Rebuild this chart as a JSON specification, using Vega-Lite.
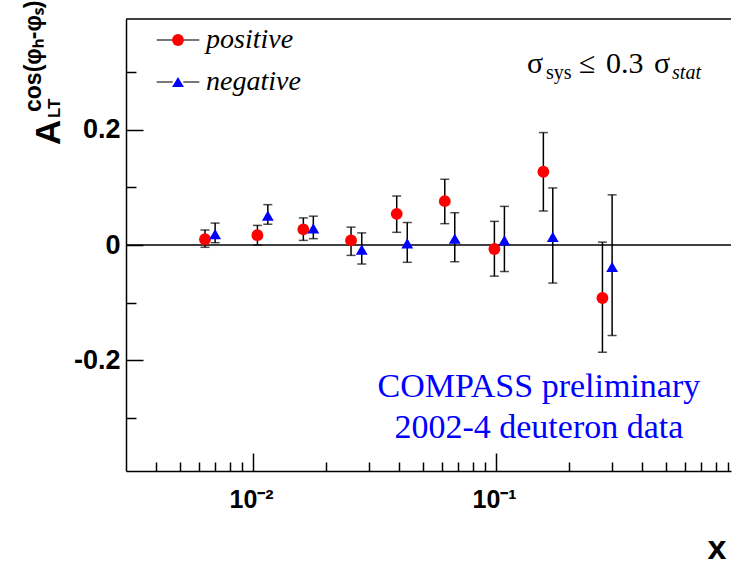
{
  "$schema": "https://vega.github.io/schema/vega-lite/v6.json",
  "width": 605,
  "height": 452,
  "autosize": "none",
  "padding": {"left": 126, "top": 19, "right": 1, "bottom": 91},
  "background": "white",
  "config": {"view": {"stroke": null}},
  "resolve": {"axis": {"x": "independent", "y": "independent"}},
  "data": {"values": [
    {"series": "positive", "x": 0.00634, "y": 0.010, "lo": -0.004, "hi": 0.026},
    {"series": "positive", "x": 0.01042, "y": 0.017, "lo": 0.000, "hi": 0.034},
    {"series": "positive", "x": 0.0161, "y": 0.027, "lo": 0.008, "hi": 0.047},
    {"series": "positive", "x": 0.0253, "y": 0.008, "lo": -0.018, "hi": 0.031},
    {"series": "positive", "x": 0.0390, "y": 0.054, "lo": 0.022, "hi": 0.085},
    {"series": "positive", "x": 0.0615, "y": 0.076, "lo": 0.037, "hi": 0.114},
    {"series": "positive", "x": 0.0984, "y": -0.007, "lo": -0.054, "hi": 0.041},
    {"series": "positive", "x": 0.1565, "y": 0.127, "lo": 0.059, "hi": 0.195},
    {"series": "positive", "x": 0.2739, "y": -0.092, "lo": -0.186, "hi": 0.005},
    {"series": "negative", "x": 0.00698, "y": 0.019, "lo": 0.004, "hi": 0.038},
    {"series": "negative", "x": 0.0115, "y": 0.051, "lo": 0.036, "hi": 0.070},
    {"series": "negative", "x": 0.0177, "y": 0.029, "lo": 0.011, "hi": 0.050},
    {"series": "negative", "x": 0.0280, "y": -0.008, "lo": -0.033, "hi": 0.021},
    {"series": "negative", "x": 0.0431, "y": 0.003, "lo": -0.030, "hi": 0.039},
    {"series": "negative", "x": 0.0676, "y": 0.011, "lo": -0.029, "hi": 0.056},
    {"series": "negative", "x": 0.1082, "y": 0.008, "lo": -0.046, "hi": 0.067},
    {"series": "negative", "x": 0.1711, "y": 0.014, "lo": -0.066, "hi": 0.099},
    {"series": "negative", "x": 0.3002, "y": -0.038, "lo": -0.157, "hi": 0.087}
  ]},
  "layer": [
    {
      "data": {"values": [{}]},
      "mark": {"type": "rule", "color": "black", "strokeWidth": 1.5},
      "encoding": {"y": {"datum": 0, "axis": null}}
    },
    {
      "data": {"values": [{}]},
      "mark": {"type": "rule", "color": "black", "strokeWidth": 1.5},
      "encoding": {"y": {"datum": 0.392, "axis": null}}
    },
    {
      "mark": {"type": "errorbar", "ticks": true, "size": 9, "thickness": 1.5},
      "encoding": {
        "x": {
          "field": "x", "type": "quantitative",
          "scale": {"type": "log", "domain": [0.003, 0.926], "nice": false},
          "axis": {
            "orient": "bottom", "title": null, "labels": false, "domain": false, "grid": false,
            "values": [0.004, 0.005, 0.006, 0.007, 0.008, 0.009, 0.02, 0.03, 0.04, 0.05, 0.06, 0.07, 0.08, 0.09, 0.2, 0.3, 0.4, 0.5, 0.6, 0.7, 0.8, 0.9],
            "ticks": true, "tickSize": -9, "tickWidth": 1.5, "tickColor": "black"
          }
        },
        "y": {
          "field": "lo", "type": "quantitative",
          "scale": {"domain": [-0.392, 0.392], "nice": false, "zero": false},
          "axis": {
            "orient": "left", "title": null, "labels": false, "domain": false, "grid": false,
            "values": [-0.3, -0.1, 0.1, 0.3],
            "ticks": true, "tickSize": -10, "tickWidth": 1.5, "tickColor": "black"
          }
        },
        "y2": {"field": "hi"},
        "color": {
          "field": "series", "type": "nominal",
          "scale": {"domain": ["positive", "negative", "none"], "range": ["black", "black", "black"]},
          "legend": {
            "orient": "none", "legendX": 38, "legendY": 7, "title": null, "padding": 0,
            "values": ["positive", "negative"],
            "symbolType": "M-3.6,0H-0.9M0.9,0H3.6", "symbolSize": 140,
            "symbolStrokeColor": "black", "symbolStrokeWidth": 1.5, "symbolFillColor": "transparent",
            "labelFont": "Liberation Serif", "labelFontStyle": "italic", "labelFontSize": 28,
            "labelColor": "black", "labelOpacity": 0, "labelOffset": 14, "rowPadding": 14
          }
        }
      }
    },
    {
      "mark": {"type": "point", "filled": true, "opacity": 1, "size": 140},
      "encoding": {
        "x": {
          "field": "x", "type": "quantitative",
          "axis": {
            "orient": "bottom", "title": "x", "grid": false,
            "values": [0.01, 0.1],
            "labelExpr": "datum.value == 0.01 ? '10⁻²' : '10⁻¹'",
            "labelOverlap": false, "labelFlush": false, "labelBound": false,
            "ticks": true, "tickSize": -18, "tickWidth": 1.5, "tickColor": "black",
            "domain": true, "domainColor": "black", "domainWidth": 1.5,
            "labelPadding": 34, "labelOffset": -2,
            "labelFont": "Liberation Sans", "labelFontWeight": "bold", "labelFontSize": 25, "labelColor": "black",
            "titleFont": "Liberation Sans", "titleFontWeight": "bold", "titleFontSize": 34, "titleColor": "black",
            "titleX": 600, "titleY": 87, "titleAlign": "right", "titleBaseline": "alphabetic", "titleAnchor": "end"
          }
        },
        "y": {
          "field": "y", "type": "quantitative",
          "axis": {
            "orient": "left", "title": null, "grid": false,
            "values": [-0.2, 0, 0.2],
            "labelExpr": "datum.value == 0.2 ? '0.2' : (datum.value == 0 ? '0' : '-0.2')",
            "labelOverlap": false, "labelFlush": false, "labelBound": false,
            "ticks": true, "tickSize": -17, "tickWidth": 1.5, "tickColor": "black",
            "domain": true, "domainColor": "black", "domainWidth": 1.5,
            "labelPadding": 23,
            "labelFont": "Liberation Sans", "labelFontWeight": "bold", "labelFontSize": 27, "labelColor": "black"
          }
        },
        "fill": {
          "field": "series", "type": "nominal",
          "scale": {"domain": ["positive", "negative"], "range": ["#ff0000", "#0000ff"]},
          "legend": {
            "orient": "none", "legendX": 38, "legendY": 7, "title": null, "padding": 0,
            "symbolSize": 140, "symbolStrokeWidth": 0,
            "labelFont": "Liberation Serif", "labelFontStyle": "italic", "labelFontSize": 28,
            "labelColor": "black", "labelOffset": 14, "rowPadding": 14
          }
        },
        "shape": {
          "field": "series", "type": "nominal",
          "scale": {"domain": ["positive", "negative"], "range": ["circle", "triangle-up"]},
          "legend": {
            "orient": "none", "legendX": 38, "legendY": 7, "title": null, "padding": 0,
            "symbolSize": 140, "symbolStrokeWidth": 0,
            "labelFont": "Liberation Serif", "labelFontStyle": "italic", "labelFontSize": 28,
            "labelColor": "black", "labelOffset": 14, "rowPadding": 14
          }
        }
      }
    },
    {
      "data": {"values": [{}]},
      "mark": {"type": "text", "text": "σ", "font": "Liberation Serif", "fontSize": 30, "align": "left", "baseline": "alphabetic", "dx": -85, "dy": 1, "color": "black"},
      "encoding": {"x": {"datum": 0.3, "axis": null}, "y": {"datum": 0.3, "axis": null}}
    },
    {
      "data": {"values": [{}]},
      "mark": {"type": "text", "text": "sys", "font": "Liberation Serif", "fontSize": 20, "align": "left", "baseline": "alphabetic", "dx": -66, "dy": 7, "color": "black"},
      "encoding": {"x": {"datum": 0.3, "axis": null}, "y": {"datum": 0.3, "axis": null}}
    },
    {
      "data": {"values": [{}]},
      "mark": {"type": "text", "text": "≤", "font": "Liberation Serif", "fontSize": 30, "align": "left", "baseline": "alphabetic", "dx": -33, "dy": 1, "color": "black"},
      "encoding": {"x": {"datum": 0.3, "axis": null}, "y": {"datum": 0.3, "axis": null}}
    },
    {
      "data": {"values": [{}]},
      "mark": {"type": "text", "text": "0.3", "font": "Liberation Serif", "fontSize": 30, "align": "left", "baseline": "alphabetic", "dx": -6, "dy": 1, "color": "black"},
      "encoding": {"x": {"datum": 0.3, "axis": null}, "y": {"datum": 0.3, "axis": null}}
    },
    {
      "data": {"values": [{}]},
      "mark": {"type": "text", "text": "σ", "font": "Liberation Serif", "fontSize": 30, "align": "left", "baseline": "alphabetic", "dx": 42, "dy": 1, "color": "black"},
      "encoding": {"x": {"datum": 0.3, "axis": null}, "y": {"datum": 0.3, "axis": null}}
    },
    {
      "data": {"values": [{}]},
      "mark": {"type": "text", "text": "stat", "font": "Liberation Serif", "fontSize": 20, "fontStyle": "italic", "align": "left", "baseline": "alphabetic", "dx": 60, "dy": 7, "color": "black"},
      "encoding": {"x": {"datum": 0.3, "axis": null}, "y": {"datum": 0.3, "axis": null}}
    },
    {
      "data": {"values": [{}]},
      "mark": {"type": "text", "text": ["COMPASS preliminary", "2002-4 deuteron data"], "font": "Liberation Serif", "fontSize": 34, "lineHeight": 41, "align": "center", "baseline": "alphabetic", "color": "#0000ff"},
      "encoding": {"x": {"datum": 0.15, "axis": null}, "y": {"datum": -0.264, "axis": null}}
    },
    {
      "data": {"values": [{}]},
      "mark": {"type": "text", "text": "A", "font": "Liberation Sans", "fontWeight": "bold", "fontSize": 35, "angle": 270, "align": "left", "baseline": "alphabetic", "dx": 100, "dy": -66, "color": "black"},
      "encoding": {"x": {"datum": 0.003, "axis": null}, "y": {"datum": 0, "axis": null}}
    },
    {
      "data": {"values": [{}]},
      "mark": {"type": "text", "text": "LT", "font": "Liberation Sans", "fontWeight": "bold", "fontSize": 17, "angle": 270, "align": "left", "baseline": "alphabetic", "dx": 127, "dy": -66, "color": "black"},
      "encoding": {"x": {"datum": 0.003, "axis": null}, "y": {"datum": 0, "axis": null}}
    },
    {
      "data": {"values": [{}]},
      "mark": {"type": "text", "text": "cos(φₕ-φₛ)", "font": "Liberation Sans", "fontWeight": "bold", "fontSize": 23, "angle": 270, "align": "left", "baseline": "alphabetic", "dx": 133, "dy": -85, "color": "black"},
      "encoding": {"x": {"datum": 0.003, "axis": null}, "y": {"datum": 0, "axis": null}}
    }
  ]
}
